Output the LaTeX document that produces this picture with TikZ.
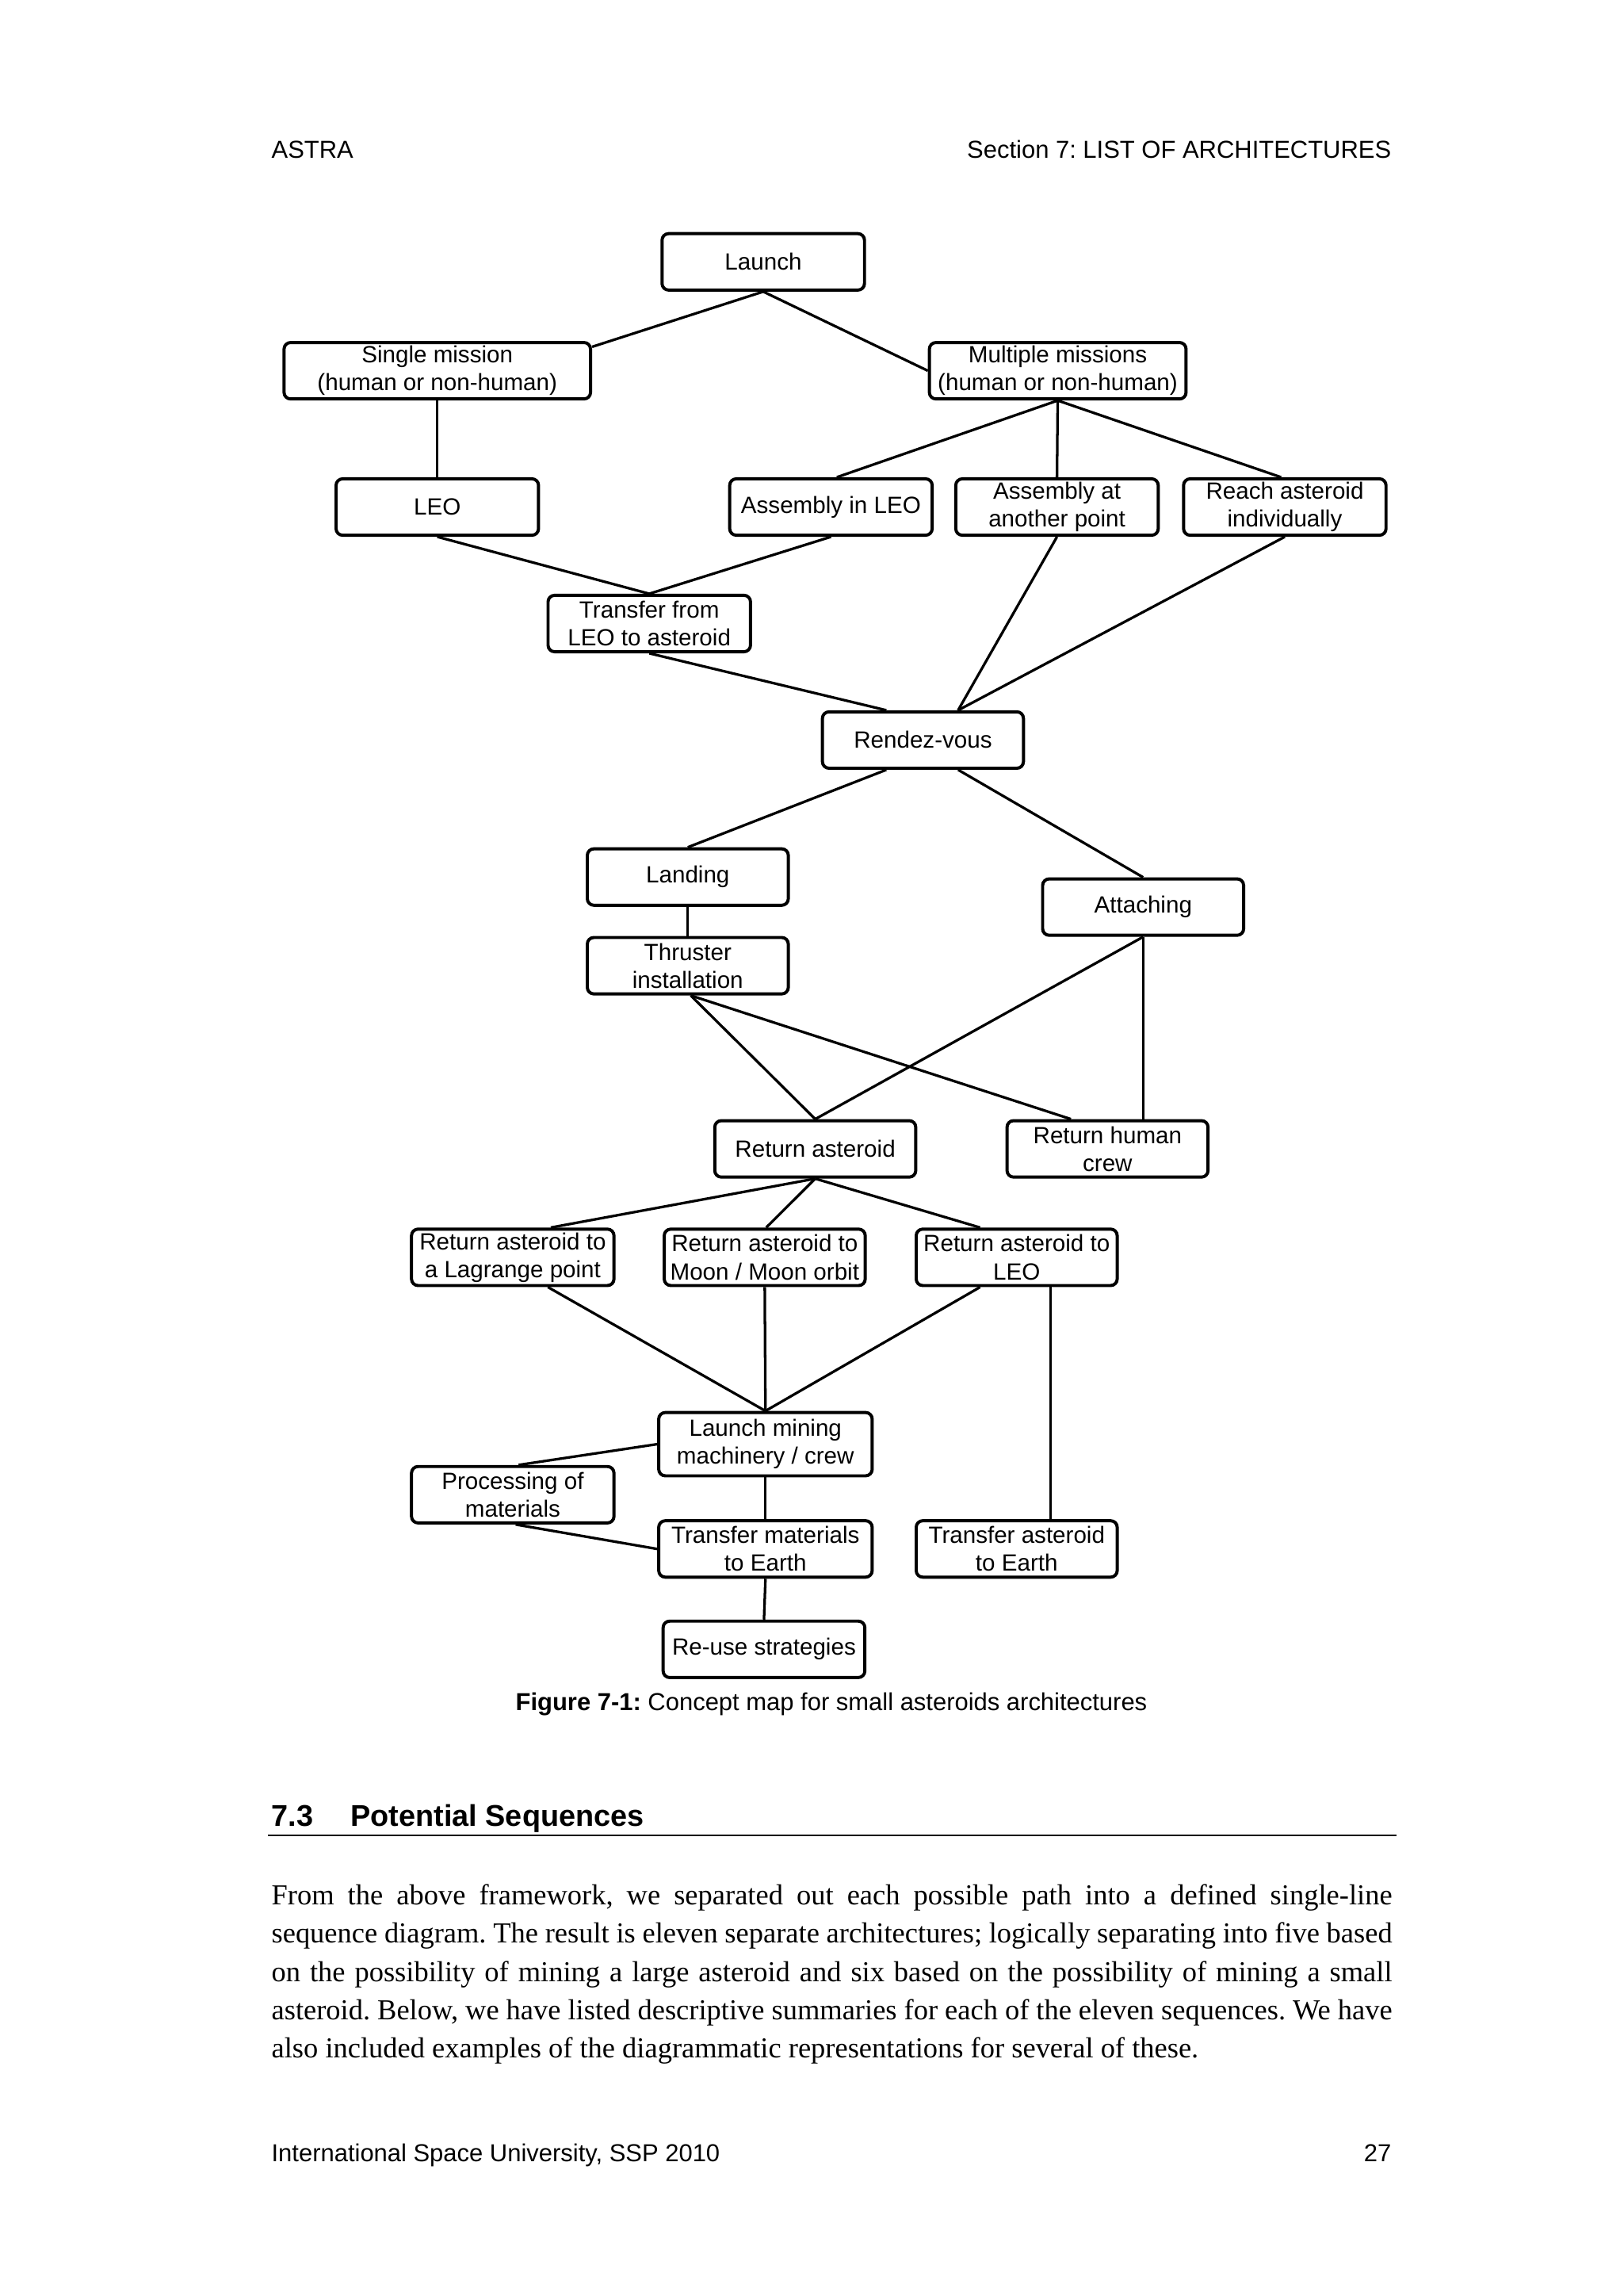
\documentclass[tikz,border=0pt]{standalone}
\usepackage{fontspec}
\setmainfont{Liberation Serif}
\setsansfont{Liberation Sans}
\usetikzlibrary{calc}
\frenchspacing
\begin{document}
\begin{tikzpicture}[x=0.5373pt,y=-0.5373pt,
  box/.style={draw,line width=1.15pt,rounded corners=2.4pt,fill=white,minimum height={38.5*0.5373pt},inner sep=0pt,align=center,font=\sffamily\fontsize{8.6}{10.2}\selectfont},
  bw/.style={minimum width={(#1-1.8)*0.5373pt}},
  bh/.style={minimum height={(#1-1.8)*0.5373pt}},
  link/.style={line width=0.95pt},
  hdr/.style={inner sep=0pt,font=\sffamily\fontsize{9}{11}\selectfont},
  body/.style={inner sep=0pt,anchor=base west,font=\fontsize{10.6}{14}\selectfont}]
\useasboundingbox[fill=white] (0,0) rectangle (1108,1566.8);

% header
\node[hdr,anchor=base west] (hl) at (185,108) {ASTRA};
\node[hdr,anchor=base east] (hr) at (950,108) {Section 7: LIST OF ARCHITECTURES};

% boxes
\node[box,bw=140] (launch) at (521,178.7) {Launch};
\node[box,bw=211] (single) at (298.5,253) {Single mission\\(human or non-human)};
\node[box,bw=177] (multi) at (722,253) {Multiple missions\\(human or non-human)};
\node[box,bw=140] (leo) at (298.5,346) {LEO};
\node[box,bw=140] (asmleo) at (567.2,346) {Assembly in LEO};
\node[box,bw=140] (asmoth) at (721.5,346) {Assembly at\\another point};
\node[box,bw=140] (reach) at (877,346) {Reach asteroid\\individually};
\node[box,bw=140] (transfer) at (443.2,425.5) {Transfer from\\LEO to asteroid};
\node[box,bw=139] (rendez) at (630,505) {Rendez-vous};
\node[box,bw=139] (landing) at (469.5,598.5) {Landing};
\node[box,bw=139] (attach) at (780.3,619) {Attaching};
\node[box,bw=139] (thrust) at (469.5,659) {Thruster\\installation};
\node[box,bw=139] (retast) at (556.5,784) {Return asteroid};
\node[box,bw=139] (rethum) at (756,784) {Return human\\crew};
\node[box,bw=140] (lag) at (350,858) {Return asteroid to\\a Lagrange point};
\node[box,bw=139] (moon) at (522,858) {Return asteroid to\\Moon / Moon orbit};
\node[box,bw=139] (retleo) at (694,858) {Return asteroid to\\LEO};
\node[box,bw=147.5,bh=45] (mining) at (522.5,985.5) {Launch mining\\machinery / crew};
\node[box,bw=140] (process) at (350,1020) {Processing of\\materials};
\node[box,bw=147.5] (tmat) at (522.5,1057) {Transfer materials\\to Earth};
\node[box,bw=139] (tast) at (694,1057) {Transfer asteroid\\to Earth};
\node[box,bw=139.5] (reuse) at (521.5,1125.5) {Re-use strategies};

% connectors
\draw[link] (launch.south) -- ($(single.north east)+(0,4)$);
\draw[link] (launch.south) -- (multi.west);
\draw[link] (single.south) -- (leo.north);
\draw[link] (multi.south) -- ($(asmleo.north)+(4,0)$);
\draw[link] (multi.south) -- (asmoth.north);
\draw[link] (multi.south) -- ($(reach.north)+(-2.5,0)$);
\draw[link] (leo.south) -- (transfer.north);
\draw[link] (asmleo.south) -- (transfer.north);
\draw[link] (transfer.south) -- ($(rendez.north)+(-25,0)$);
\draw[link] (asmoth.south) -- ($(rendez.north)+(24,0)$);
\draw[link] (reach.south) -- ($(rendez.north)+(24,0)$);
\draw[link] ($(rendez.south)+(-25,0)$) -- (landing.north);
\draw[link] ($(rendez.south)+(24,0)$) -- (attach.north);
\draw[link] (landing.south) -- (thrust.north);
\draw[link] ($(thrust.south)+(2,0)$) -- (retast.north);
\draw[link] ($(thrust.south)+(2,0)$) -- ($(rethum.north)+(-25,0)$);
\draw[link] (attach.south) -- (retast.north);
\draw[link] (attach.south) -- (attach.south |- rethum.north);
\draw[link] (retast.south) -- ($(lag.north)+(26,0)$);
\draw[link] (retast.south) -- ($(moon.north)+(1,0)$);
\draw[link] (retast.south) -- ($(retleo.north)+(-25,0)$);
\draw[link] ($(lag.south)+(24,0)$) -- (mining.north);
\draw[link] (moon.south) -- (mining.north);
\draw[link] ($(retleo.south)+(-25,0)$) -- (mining.north);
\coordinate (lt) at ($(retleo.south)+(23,0)$);
\draw[link] (lt) -- (lt |- tast.north);
\draw[link] (mining.west) -- ($(process.north)+(4,0)$);
\draw[link] ($(process.south)+(2,0)$) -- (tmat.west);
\draw[link] (mining.south) -- (tmat.north);
\draw[link] (tmat.south) -- (reuse.north);

% caption
\node[hdr,anchor=base] (cap) at (567.5,1167) {\textbf{Figure 7-1:} Concept map for small asteroids architectures};

% section heading
\node[inner sep=0pt,anchor=base west,font=\sffamily\bfseries\fontsize{11}{13}\selectfont] (secnum) at (185,1246) {7.3};
\node[inner sep=0pt,anchor=base west,font=\sffamily\bfseries\fontsize{11}{13}\selectfont] (sectitle) at (239,1246) {Potential Sequences};
\draw[line width=0.7pt] (183,1252.5) -- (953,1252.5);

% body
\node[body] (b1) at (185,1300) {\makebox[411pt][s]{From the above framework, we separated out each possible path into a defined single-line}};
\node[body] (b2) at (185,1326) {\makebox[411pt][s]{sequence diagram. The result is eleven separate architectures; logically separating into five based}};
\node[body] (b3) at (185,1352) {\makebox[411pt][s]{on the possibility of mining a large asteroid and six based on the possibility of mining a small}};
\node[body] (b4) at (185,1378) {\makebox[411pt][s]{asteroid. Below, we have listed descriptive summaries for each of the eleven sequences. We have}};
\node[body] (b5) at (185,1404) {also included examples of the diagrammatic representations for several of these.};

% footer
\node[hdr,anchor=base west] (fl) at (185,1475) {International Space University, SSP 2010};
\node[hdr,anchor=base east] (fr) at (950,1475) {27};
\end{tikzpicture}
\end{document}
